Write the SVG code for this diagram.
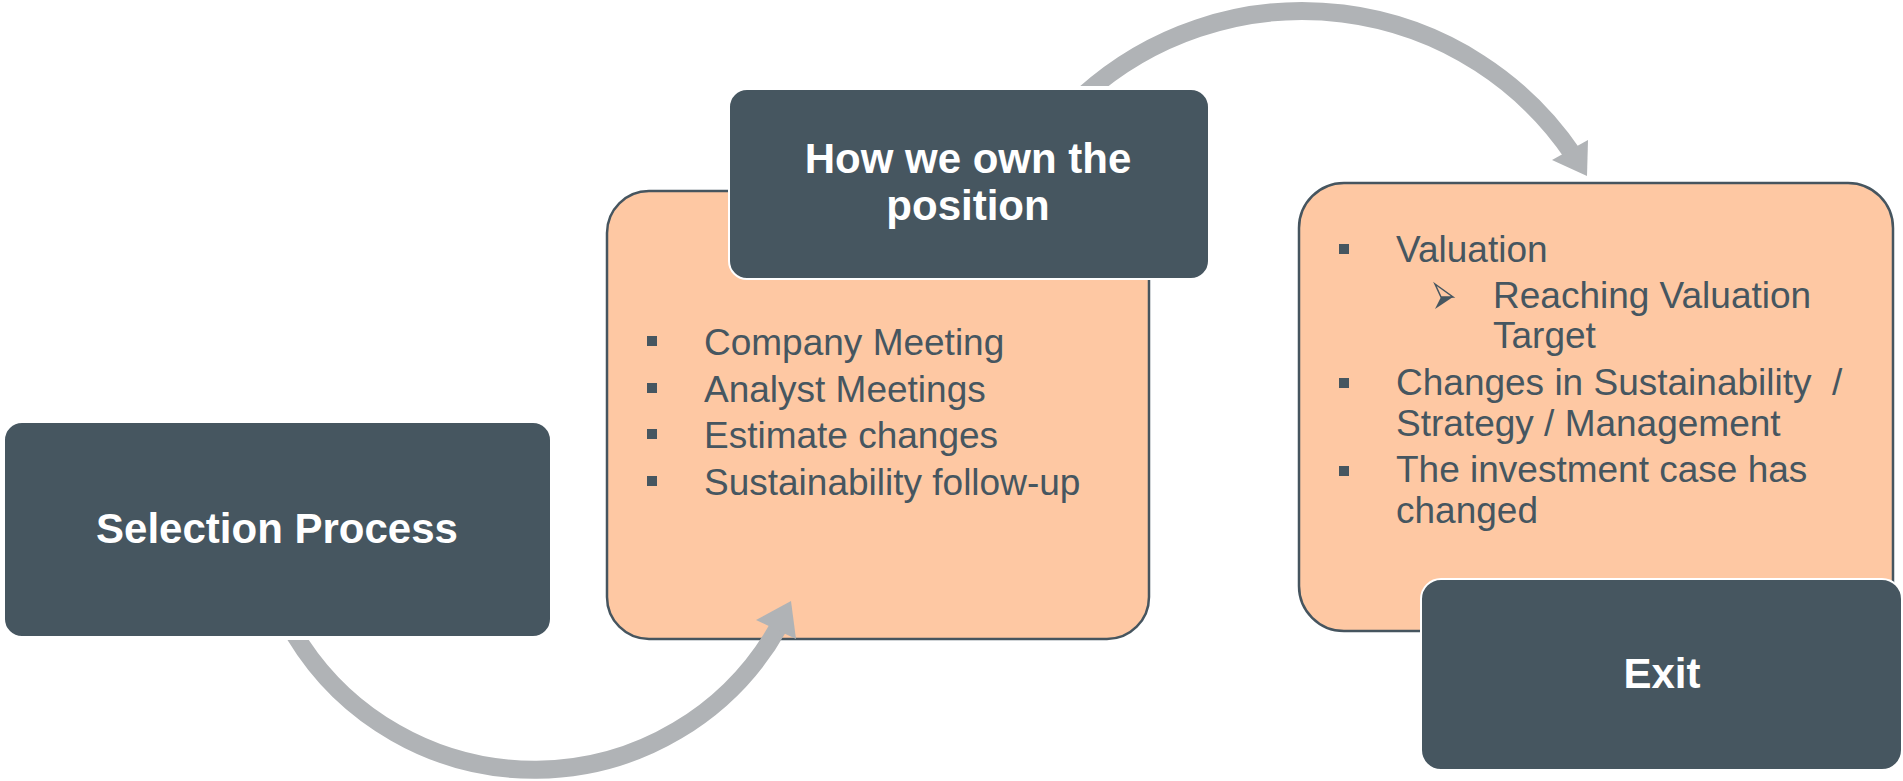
<svg xmlns="http://www.w3.org/2000/svg" width="1903" height="781" viewBox="0 0 1903 781">
<style>
.dark{fill:#465660;}
.darkbox{fill:#465660;stroke:#ffffff;stroke-width:2;}
.peach{fill:#FEC8A3;stroke:#46555F;stroke-width:2.5;}
.title{font-family:"Liberation Sans",Arial,sans-serif;font-weight:bold;font-size:42px;fill:#ffffff;text-anchor:middle;}
.item{font-family:"Liberation Sans",Arial,sans-serif;font-size:37px;fill:#465660;white-space:pre;}
.bullet{fill:#465660;}
.arc{fill:none;stroke:#B0B3B6;stroke-width:18;}
.head{fill:#B0B3B6;}
</style>
<defs>
<clipPath id="clip1"><path d="M0 640 H550 V0 H1903 V781 H0 Z"/></clipPath>
<clipPath id="clip2"><path d="M0 0 H1903 V781 H1215 V86 H0 Z"/></clipPath>
</defs>
<rect width="1903" height="781" fill="#ffffff"/>

<g id="node-own-body">
<rect class="peach" x="607" y="191" width="542" height="448" rx="42" ry="42"/>
<rect class="bullet" x="647" y="336" width="10" height="10"/>
<text class="item" x="704" y="355">Company Meeting</text>
<rect class="bullet" x="647" y="383" width="10" height="10"/>
<text class="item" x="704" y="402">Analyst Meetings</text>
<rect class="bullet" x="647" y="429" width="10" height="10"/>
<text class="item" x="704" y="448">Estimate changes</text>
<rect class="bullet" x="647" y="476" width="10" height="10"/>
<text class="item" x="704" y="495">Sustainability follow-up</text>
</g>

<g id="node-exit-body">
<rect class="peach" x="1299" y="183" width="594" height="448" rx="45" ry="45"/>
<rect class="bullet" x="1339" y="244" width="10" height="10"/>
<text class="item" x="1396" y="262">Valuation</text>
<polygon points="1435,284 1453,297 1441,297" fill="none" stroke="#465660" stroke-width="1.5" stroke-linejoin="miter"/>
<polygon points="1441,297 1453,297 1435,309" fill="#465660"/>
<text class="item" x="1493" y="308">Reaching Valuation</text>
<text class="item" x="1493" y="348">Target</text>
<rect class="bullet" x="1339" y="378" width="10" height="10"/>
<text class="item" x="1396" y="395">Changes in Sustainability  /</text>
<text class="item" x="1396" y="436">Strategy / Management</text>
<rect class="bullet" x="1339" y="466" width="10" height="10"/>
<text class="item" x="1396" y="482">The investment case has</text>
<text class="item" x="1396" y="523">changed</text>
</g>

<g id="connectors">
<path class="arc" clip-path="url(#clip1)" d="M292 630 A280 280 0 0 0 779 626"/>
<polygon class="head" points="791,601 756,620 796,639"/>
<path class="arc" clip-path="url(#clip2)" d="M1083.6 95 A327 327 0 0 1 1574 156"/>
<polygon class="head" points="1587,176 1552,160 1588,140"/>
</g>

<g id="node-selection">
<rect class="darkbox" x="4" y="422" width="547" height="215" rx="18" ry="18"/>
<text class="title" x="277" y="543">Selection Process</text>
</g>

<g id="node-own">
<rect class="darkbox" x="729" y="89" width="480" height="190" rx="18" ry="18"/>
<text class="title" x="968" y="173">How we own the</text>
<text class="title" x="968" y="220">position</text>
</g>

<g id="node-exit">
<rect class="darkbox" x="1421" y="579" width="481" height="191" rx="20" ry="20"/>
<text class="title" x="1662" y="688">Exit</text>
</g>
</svg>
